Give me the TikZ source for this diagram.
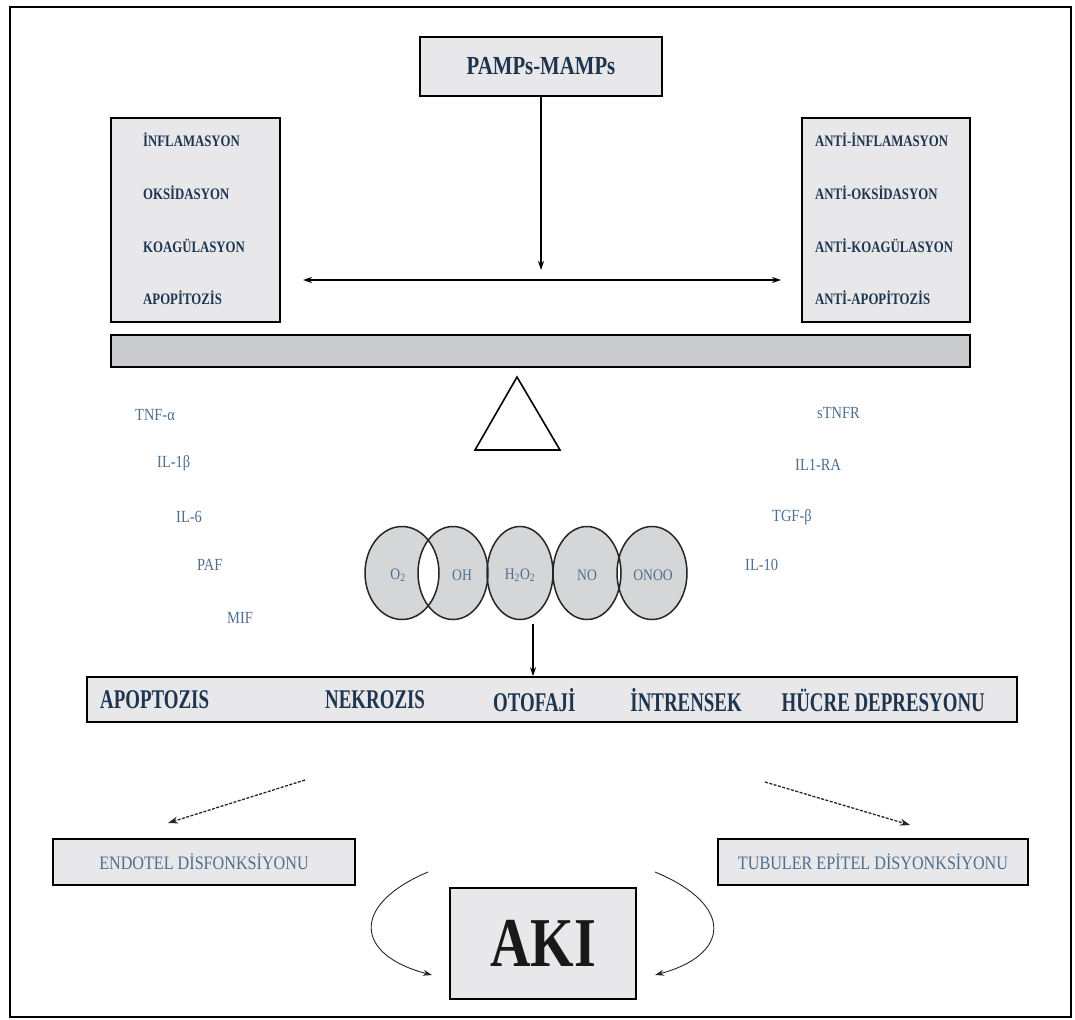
\documentclass[tikz,border=0pt]{standalone}
\usepackage{fontspec}
\setmainfont{Liberation Serif}
\newfontfamily\bcond[FakeStretch=0.8]{Liberation Serif Bold}
\newfontfamily\bnarrow[FakeStretch=0.7]{Liberation Serif Bold}
\newfontfamily\rcond[FakeStretch=0.85]{Liberation Serif}
\usetikzlibrary{arrows.meta,shapes.geometric}
\definecolor{boxfill}{HTML}{E8E8EA}
\definecolor{barfill}{HTML}{CACBCC}
\definecolor{ellfill}{HTML}{D4D6D8}
\definecolor{txtdark}{HTML}{1E3550}
\definecolor{txtlight}{HTML}{4E6E8E}
\tikzset{
  x=1pt,y=-1pt,
  gbox/.style={draw=black,line width=1.6pt,fill=boxfill,inner sep=0pt},
  lbl/.style={font=\bcond\fontsize{16}{18}\selectfont,text=txtdark,anchor=west,inner sep=0pt},
  small/.style={font=\rcond\fontsize{17}{19}\selectfont,text=txtlight,anchor=west,inner sep=0pt},
  mainlbl/.style={font=\bnarrow\fontsize{27}{30}\selectfont,text=txtdark,inner sep=0pt},
  ell/.style={font=\rcond\fontsize{16}{18}\selectfont,text=txtlight,inner sep=0pt},
  arr/.style={-{Stealth[length=9pt,width=6pt]},line width=1.1pt,black},
  darr/.style={-{Stealth[length=10pt,width=7pt]},line width=1.3pt,dash pattern=on 3pt off 1.5pt,black!85},
  carr/.style={-{Stealth[length=9pt,width=6pt]},line width=0.9pt,black!85}
}
\begin{document}
\begin{tikzpicture}
\useasboundingbox (0,0) rectangle (1075,1019);
\draw[line width=2pt] (10,7) rectangle (1071,1017);

% top box
\node[gbox,minimum width=242pt,minimum height=59pt,font=\bcond\fontsize{26}{28}\selectfont,text=txtdark] (pamps) at (541,66.5) {PAMPs-MAMPs};

% side boxes
\node[gbox,minimum width=169pt,minimum height=204pt] (lbox) at (195.5,220) {};
\node[gbox,minimum width=168pt,minimum height=204pt] (rbox) at (886,220) {};
\node[lbl] (l1) at (143,140) {İNFLAMASYON};
\node[lbl] (l2) at (143,193) {OKSİDASYON};
\node[lbl] (l3) at (143,246) {KOAGÜLASYON};
\node[lbl] (l4) at (143,298) {APOPİTOZİS};
\node[lbl] (r1) at (815,140) {ANTİ-İNFLAMASYON};
\node[lbl] (r2) at (815,193) {ANTİ-OKSİDASYON};
\node[lbl] (r3) at (815,246) {ANTİ-KOAGÜLASYON};
\node[lbl] (r4) at (815,298) {ANTİ-APOPİTOZİS};

% arrows
\coordinate (vend) at (541,270);
\draw[arr] (pamps.south) -- (vend);
\coordinate (hl) at (303,280);
\coordinate (hr) at (781,280);
\draw[arr,{Stealth[length=9pt,width=6pt]}-{Stealth[length=9pt,width=6pt]}] (hl) -- (hr);

% bar and triangle
\node[draw=black,line width=1.6pt,fill=barfill,minimum width=859pt,minimum height=32pt,inner sep=0pt] (bar) at (540.5,351) {};
\draw[line width=1.6pt,fill=white] (517,377) -- (560,450) -- (475,450) -- cycle;

% cytokine labels
\node[small] (t1) at (135,415) {TNF-α};
\node[small] (t2) at (157,463) {IL-1β};
\node[small] (t3) at (176,517) {IL-6};
\node[small] (t4) at (197,565) {PAF};
\node[small] (t5) at (227,618) {MIF};
\node[small] (s1) at (817,413) {sTNFR};
\node[small] (s2) at (795,465) {IL1-RA};
\node[small] (s3) at (772,517) {TGF-β};
\node[small] (s4) at (745,565) {IL-10};

% radicals
\fill[ellfill] (402,573) ellipse (37 and 46.5);
\fill[ellfill] (453,573) ellipse (35 and 46.5);
\fill[ellfill] (520,573) ellipse (33 and 46.5);
\fill[ellfill] (587,573) ellipse (34 and 46.5);
\fill[ellfill] (652,573) ellipse (35 and 46.5);
\begin{scope}
\clip (402,573) ellipse (37 and 46.5);
\fill[white] (453,573) ellipse (35 and 46.5);
\end{scope}
\begin{scope}
\clip (587,573) ellipse (34 and 46.5);
\fill[white] (652,573) ellipse (35 and 46.5);
\end{scope}
\draw[line width=1.5pt,black!85] (402,573) ellipse (37 and 46.5);
\draw[line width=1.5pt,black!85] (453,573) ellipse (35 and 46.5);
\draw[line width=1.5pt,black!85] (520,573) ellipse (33 and 46.5);
\draw[line width=1.5pt,black!85] (587,573) ellipse (34 and 46.5);
\draw[line width=1.5pt,black!85] (652,573) ellipse (35 and 46.5);
\node[ell] (e1) at (398,575) {O\textsubscript{2}};
\node[ell] (e2) at (462,575) {OH};
\node[ell] (e3) at (520,575) {H\textsubscript{2}O\textsubscript{2}};
\node[ell] (e4) at (587,575) {NO};
\node[ell] (e5) at (653,575) {ONOO};

% main box
\coordinate (c3b) at (533,624);
\node[gbox,minimum width=930pt,minimum height=45pt] (main) at (552,699.5) {};
\draw[arr] (c3b) -- (main.north -| c3b);
\node[mainlbl,anchor=west] (m1) at (100,700) {APOPTOZIS};
\node[mainlbl,anchor=west] (m2) at (325,700) {NEKROZIS};
\node[mainlbl,anchor=west] (m3) at (493,700) {OTOFAJİ};
\node[mainlbl,anchor=east] (m4) at (742,700) {İNTRENSEK};
\node[mainlbl,anchor=east] (m5) at (985,700) {HÜCRE DEPRESYONU};

% lower boxes
\node[gbox,minimum width=302pt,minimum height=46pt,font=\rcond\fontsize{19}{21}\selectfont,text=txtlight] (endo) at (204,862) {ENDOTEL DİSFONKSİYONU};
\node[gbox,minimum width=310pt,minimum height=46pt,font=\rcond\fontsize{19}{21}\selectfont,text=txtlight] (tub) at (873,862) {TUBULER EPİTEL DİSYONKSİYONU};
\coordinate (dl) at (305,780);
\coordinate (dle) at (168,823);
\coordinate (dr) at (765,782);
\coordinate (dre) at (910,825);
\draw[darr] (dl) -- (dle);
\draw[darr] (dr) -- (dre);

% AKI
\node[gbox,minimum width=186pt,minimum height=111pt,font=\bcond\fontsize{70}{72}\selectfont,text=black!90] (aki) at (543,943.5) {AKI};
\coordinate (cl) at (428,872);
\coordinate (cle) at (432,975);
\coordinate (cr) at (655,872);
\coordinate (cre) at (655,975);
\draw[carr] (cl) .. controls (350,905) and (355,955) .. (cle);
\draw[carr] (cr) .. controls (735,905) and (730,955) .. (cre);
\end{tikzpicture}
\end{document}
